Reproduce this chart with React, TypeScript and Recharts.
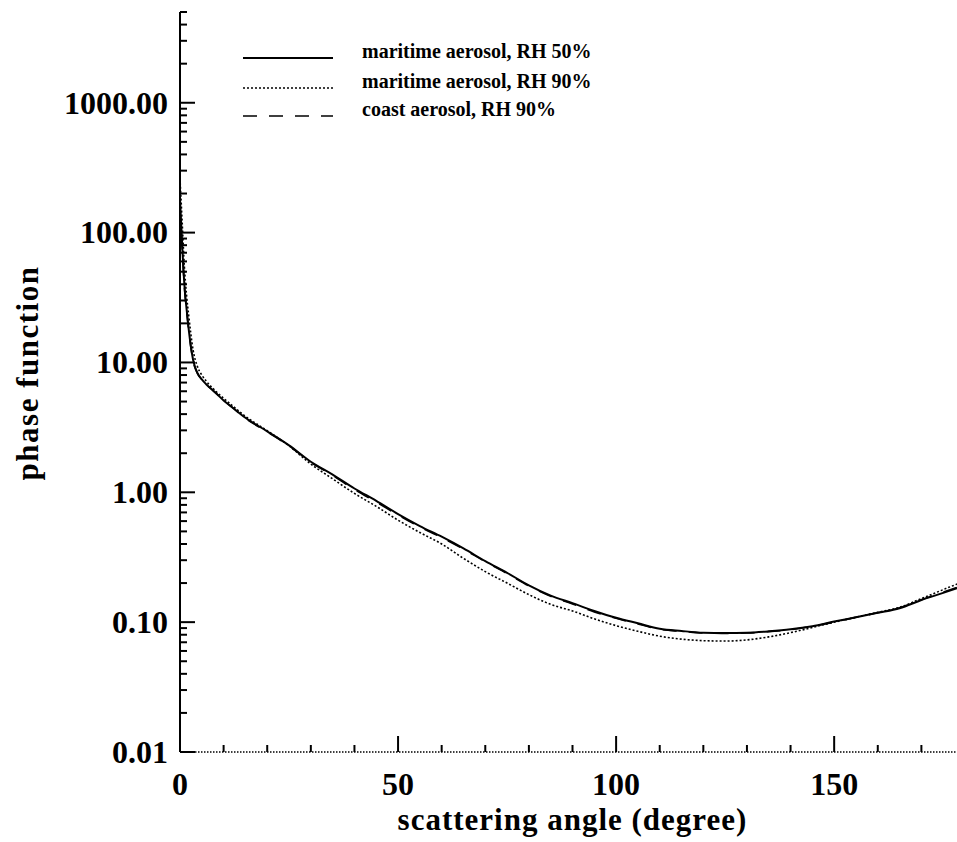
import React from "react";
import { LineChart, Line, XAxis, YAxis, Legend } from "recharts";

// scattering angle (deg)
const ANGLES = [
  0, 0.5, 1, 1.5, 2, 3, 4, 5, 6, 8, 10, 12, 15, 20, 25, 30, 35, 40, 45, 50,
  55, 60, 65, 70, 75, 80, 85, 90, 95, 100, 105, 110, 115, 120, 125, 130,
  135, 140, 145, 150, 155, 160, 165, 170, 175, 180,
];

const MARITIME_RH50 = [
  180, 80, 40, 26, 18, 10.5, 8.3, 7.4, 6.8, 5.9, 5.1, 4.5, 3.75, 2.95, 2.3,
  1.72, 1.37, 1.07, 0.86, 0.68, 0.55, 0.455, 0.37, 0.295, 0.24, 0.192, 0.16,
  0.14, 0.122, 0.108, 0.098, 0.089, 0.0855, 0.083, 0.0825, 0.083, 0.085,
  0.088, 0.093, 0.101, 0.109, 0.118, 0.128, 0.148, 0.168, 0.192,
];

const MARITIME_RH90 = [
  260, 120, 55, 33, 23, 12.5, 9.3, 8.0, 7.2, 6.1, 5.3, 4.65, 3.85, 2.98, 2.28,
  1.65, 1.27, 0.98, 0.78, 0.61, 0.49, 0.4, 0.31, 0.245, 0.2, 0.163, 0.137,
  0.122, 0.106, 0.094, 0.085, 0.078, 0.074, 0.072, 0.0715, 0.073, 0.077,
  0.083, 0.091, 0.1, 0.109, 0.119, 0.13, 0.152, 0.178, 0.208,
];

const COAST_RH90 = [
  150, 75, 38, 25, 17.5, 10.3, 8.2, 7.4, 6.8, 5.9, 5.1, 4.5, 3.72, 2.92, 2.28,
  1.7, 1.35, 1.05, 0.84, 0.67, 0.54, 0.448, 0.365, 0.292, 0.237, 0.19, 0.158,
  0.138, 0.12, 0.107, 0.097, 0.088, 0.085, 0.0825, 0.082, 0.0825, 0.0845,
  0.0875, 0.093, 0.1, 0.109, 0.118, 0.129, 0.149, 0.17, 0.195,
];

const X_MAJOR = [0, 50, 100, 150];
const X_MINOR = [10, 20, 30, 40, 60, 70, 80, 90, 110, 120, 130, 140, 160, 170];
const Y_MAJOR = [0.01, 0.1, 1, 10, 100, 1000];
const Y_MINOR_STEPS = [2, 3, 4, 5, 6, 7, 8, 9];

const SERIES = [
  { key: "rh50", name: "maritime aerosol, RH 50%", dash: undefined, width: 2 },
  { key: "rh90", name: "maritime aerosol, RH 90%", dash: "2 2", width: 1.6 },
  { key: "coast", name: "coast aerosol, RH 90%", dash: "14 12", width: 1.6 },
];

const data = ANGLES.map((a, i) => ({
  angle: a,
  rh50: MARITIME_RH50[i],
  rh90: MARITIME_RH90[i],
  coast: COAST_RH90[i],
}));

const yTicks = [
  ...Y_MAJOR,
  ...Y_MAJOR.flatMap((m) => Y_MINOR_STEPS.map((k) => +(m * k).toPrecision(3))),
]
  .filter((v) => v <= 5000)
  .sort((a, b) => a - b);
const xTicks = [...X_MAJOR, ...X_MINOR].sort((a, b) => a - b);

const FONT = "'Liberation Serif', 'Times New Roman', serif";
const LABEL_GAP = 12;

const isYMajor = (v: number) => Y_MAJOR.some((m) => Math.abs(v / m - 1) < 1e-6);
const isXMajor = (v: number) => X_MAJOR.includes(v);

const LeftTick = ({ x, y, payload }: any) => {
  const v = payload.value;
  const major = isYMajor(v);
  const ax = x + LABEL_GAP;
  return (
    <g>
      <line x1={ax} x2={ax + (major ? 15 : 7)} y1={y} y2={y} stroke="#000" strokeWidth={2} />
      {major && (
        <text x={x} y={y} dy="0.34em" textAnchor="end" fontFamily={FONT} fontWeight={700} fontSize={32} fill="#000">
          {v.toFixed(2)}
        </text>
      )}
    </g>
  );
};

const RightTick = ({ x, y, payload }: any) => {
  const major = isYMajor(payload.value);
  return <line x1={x} x2={x - (major ? 15 : 7)} y1={y} y2={y} stroke="#000" strokeWidth={2} />;
};

const BottomTick = ({ x, y, payload }: any) => {
  const v = payload.value;
  const major = isXMajor(v);
  return (
    <g>
      <line x1={x} x2={x} y1={y} y2={y - (major ? 16 : 7)} stroke="#000" strokeWidth={2} />
      {major && (
        <text x={x} y={y + 43} textAnchor="middle" fontFamily={FONT} fontWeight={700} fontSize={32} fill="#000">
          {v}
        </text>
      )}
    </g>
  );
};

const TopTick = ({ x, y, payload }: any) => {
  const major = isXMajor(payload.value);
  return <line x1={x} x2={x} y1={y} y2={y + (major ? 15 : 8)} stroke="#000" strokeWidth={2} />;
};

const XTitle = ({ viewBox }: any) => (
  <text
    x={viewBox.x + viewBox.width / 2}
    y={viewBox.y + 78}
    textAnchor="middle"
    fontFamily={FONT}
    fontWeight={700}
    fontSize={31}
    letterSpacing={1}
    fill="#000"
  >
    scattering angle (degree)
  </text>
);

const YTitle = ({ viewBox }: any) => {
  const cx = viewBox.x + 38;
  const cy = viewBox.y + viewBox.height / 2 - 9;
  return (
    <text
      x={cx}
      y={cy}
      transform={`rotate(-90, ${cx}, ${cy})`}
      textAnchor="middle"
      fontFamily={FONT}
      fontWeight={700}
      fontSize={31}
      letterSpacing={1.5}
      fill="#000"
    >
      phase function
    </text>
  );
};

const LegendBox = () => (
  <svg width={420} height={110}>
    {SERIES.map((s, i) => {
      const y = [28, 58, 86][i];
      return (
        <g key={s.key}>
          <line x1={0} x2={90} y1={y} y2={y} stroke="#000" strokeWidth={s.width} strokeDasharray={s.dash} />
          <text x={119} y={y} fontFamily={FONT} fontWeight={700} fontSize={20} fill="#000">
            {s.name}
          </text>
        </g>
      );
    })}
  </svg>
);

export default function App() {
  return (
    <div style={{ position: "absolute", left: 0, top: 0, width: 957, height: 842, overflow: "hidden", background: "#fff" }}>
      <LineChart width={966} height={842} data={data} margin={{ top: 12, right: 1, bottom: 0, left: 0 }}>
        <XAxis
          dataKey="angle"
          type="number"
          domain={[0, 180]}
          ticks={xTicks}
          interval={0}
          height={90}
          tickSize={0}
          tickMargin={0}
          tick={<BottomTick />}
          tickLine={false}
          axisLine={{ stroke: "#000", strokeWidth: 1.5, strokeDasharray: "1.5 1.5" }}
          label={(p: any) => <XTitle viewBox={p.viewBox} />}
        />
        <XAxis
          xAxisId="top"
          orientation="top"
          dataKey="angle"
          type="number"
          domain={[0, 180]}
          ticks={xTicks}
          interval={0}
          height={0}
          tickSize={0}
          tickMargin={0}
          tick={<TopTick />}
          tickLine={false}
          axisLine={{ stroke: "#000", strokeWidth: 2 }}
        />
        <YAxis
          scale="log"
          type="number"
          domain={[0.01, 5000]}
          allowDataOverflow
          ticks={yTicks}
          interval={0}
          width={180}
          tickSize={0}
          tickMargin={LABEL_GAP}
          tick={<LeftTick />}
          tickLine={false}
          axisLine={{ stroke: "#000", strokeWidth: 2 }}
          label={(p: any) => <YTitle viewBox={p.viewBox} />}
        />
        <YAxis
          yAxisId="right"
          orientation="right"
          scale="log"
          type="number"
          domain={[0.01, 5000]}
          allowDataOverflow
          ticks={yTicks}
          interval={0}
          width={0}
          tickSize={0}
          tickMargin={0}
          tick={<RightTick />}
          tickLine={false}
          axisLine={{ stroke: "#000", strokeWidth: 1.5, strokeDasharray: "1.5 1.5" }}
        />
        <Legend
          layout="vertical"
          align="center"
          verticalAlign="middle"
          wrapperStyle={{ left: 243, top: 30, width: 420, height: 110 }}
          content={() => <LegendBox />}
        />
        {SERIES.map((s) => (
          <Line
            key={s.key}
            dataKey={s.key}
            name={s.name}
            type="monotone"
            stroke="#000"
            strokeWidth={s.width}
            strokeDasharray={s.dash}
            dot={false}
            activeDot={false}
            isAnimationActive={false}
          />
        ))}
      </LineChart>
    </div>
  );
}
